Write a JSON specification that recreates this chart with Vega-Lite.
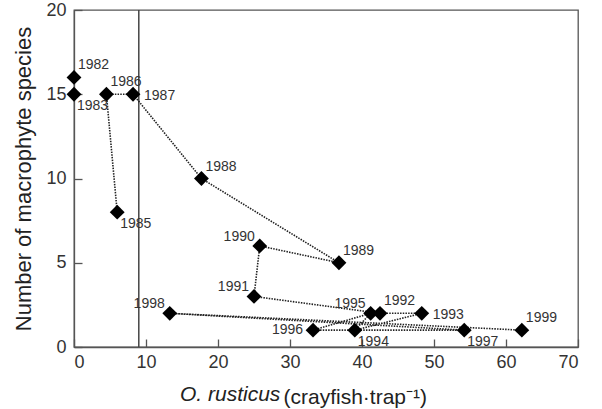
{
  "$schema": "https://vega.github.io/schema/vega-lite/v6.json",
  "width": 504,
  "height": 337,
  "autosize": {"type": "none"},
  "padding": {"left": 74, "top": 10, "right": 24, "bottom": 62},
  "background": "white",
  "title": {
    "text": "O. rusticus",
    "orient": "bottom",
    "anchor": "start",
    "frame": "group",
    "baseline": "alphabetic",
    "fontStyle": "italic",
    "fontWeight": "normal",
    "font": "Liberation Sans",
    "fontSize": 21,
    "color": "#222",
    "offset": 0,
    "dx": 106,
    "dy": -6
  },
  "config": {
    "view": {"stroke": "#555", "strokeWidth": 1.3},
    "axis": {
      "grid": false,
      "labelFont": "Liberation Sans",
      "titleFont": "Liberation Sans",
      "labelColor": "#333",
      "titleColor": "#222",
      "domainColor": "#555",
      "tickColor": "#555",
      "labelFontSize": 18,
      "titleFontWeight": "normal",
      "tickSize": -8,
      "tickWidth": 1.3,
      "domainWidth": 1.3
    }
  },
  "data": {
    "values": [
      {"year": 1982, "crayfish": 0, "species": 16},
      {"year": 1983, "crayfish": 0, "species": 15},
      {"year": 1985, "crayfish": 6.0, "species": 8},
      {"year": 1986, "crayfish": 4.5, "species": 15},
      {"year": 1987, "crayfish": 8.2, "species": 15},
      {"year": 1988, "crayfish": 17.7, "species": 10},
      {"year": 1989, "crayfish": 36.8, "species": 5},
      {"year": 1990, "crayfish": 25.8, "species": 6},
      {"year": 1991, "crayfish": 25.0, "species": 3},
      {"year": 1992, "crayfish": 42.5, "species": 2},
      {"year": 1993, "crayfish": 48.3, "species": 2},
      {"year": 1994, "crayfish": 39.0, "species": 1},
      {"year": 1995, "crayfish": 41.2, "species": 2},
      {"year": 1996, "crayfish": 33.2, "species": 1},
      {"year": 1997, "crayfish": 54.2, "species": 1},
      {"year": 1998, "crayfish": 13.3, "species": 2},
      {"year": 1999, "crayfish": 62.2, "species": 1}
    ]
  },
  "encoding": {
    "x": {
      "field": "crayfish",
      "type": "quantitative",
      "scale": {"domain": [0, 70], "nice": false, "zero": false},
      "axis": {
        "values": [0, 10, 20, 30, 40, 50, 60, 70],
        "title": "(crayfish·trap⁻¹)",
        "titleFontSize": 21,
        "titleAlign": "left",
        "titleBaseline": "alphabetic",
        "titleX": 209,
        "titleY": 56,
        "labelPadding": 14
      }
    },
    "y": {
      "field": "species",
      "type": "quantitative",
      "scale": {"domain": [0, 20], "nice": false},
      "axis": {
        "values": [0, 5, 10, 15, 20],
        "title": "Number of macrophyte species",
        "titleFontSize": 22,
        "titlePadding": 10,
        "labelPadding": 16
      }
    }
  },
  "layer": [
    {
      "data": {"values": [{"threshold": 9}]},
      "mark": {"type": "rule", "color": "#444", "strokeWidth": 1.5},
      "encoding": {"x": {"field": "threshold", "type": "quantitative"}, "y": null}
    },
    {
      "transform": [{"filter": "datum.year >= 1985"}],
      "mark": {"type": "line", "color": "#222", "strokeWidth": 1.6, "strokeDash": [1.5, 1.2]},
      "encoding": {"order": {"field": "year", "type": "quantitative"}}
    },
    {
      "mark": {"type": "point", "shape": "diamond", "filled": true, "color": "#000", "size": 220, "opacity": 1}
    },
    {
      "transform": [{"filter": {"field": "year", "oneOf": [1982, 1986, 1988, 1989, 1992, 1999]}}],
      "mark": {"type": "text", "align": "left", "baseline": "middle", "dx": 4, "dy": -12, "font": "Liberation Sans", "fontSize": 14, "color": "#333"},
      "encoding": {"text": {"field": "year", "type": "nominal"}}
    },
    {
      "transform": [{"filter": {"field": "year", "oneOf": [1983, 1985, 1994, 1997]}}],
      "mark": {"type": "text", "align": "left", "baseline": "middle", "dx": 3, "dy": 12, "font": "Liberation Sans", "fontSize": 14, "color": "#333"},
      "encoding": {"text": {"field": "year", "type": "nominal"}}
    },
    {
      "transform": [{"filter": {"field": "year", "oneOf": [1987, 1993]}}],
      "mark": {"type": "text", "align": "left", "baseline": "middle", "dx": 11, "dy": 2, "font": "Liberation Sans", "fontSize": 14, "color": "#333"},
      "encoding": {"text": {"field": "year", "type": "nominal"}}
    },
    {
      "transform": [{"filter": {"field": "year", "oneOf": [1990, 1991, 1995, 1998]}}],
      "mark": {"type": "text", "align": "right", "baseline": "middle", "dx": -5, "dy": -9, "font": "Liberation Sans", "fontSize": 14, "color": "#333"},
      "encoding": {"text": {"field": "year", "type": "nominal"}}
    },
    {
      "transform": [{"filter": {"field": "year", "oneOf": [1996]}}],
      "mark": {"type": "text", "align": "right", "baseline": "middle", "dx": -10, "dy": 0, "font": "Liberation Sans", "fontSize": 14, "color": "#333"},
      "encoding": {"text": {"field": "year", "type": "nominal"}}
    }
  ]
}
